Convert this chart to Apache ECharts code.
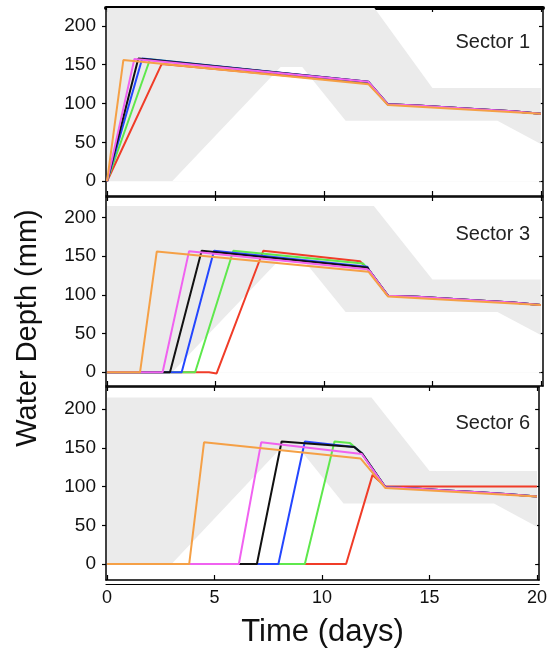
<!DOCTYPE html>
<html><head><meta charset="utf-8">
<script src="https://cdn.jsdelivr.net/npm/echarts@6/dist/echarts.min.js"></script>
<style>html,body{margin:0;padding:0;background:#fff}#c{width:550px;height:655px}</style>
</head><body><div id="c"></div>
<script>
// ---- data ----
const xTicks = [0, 5, 10, 15, 20];
const yTicks = [0, 50, 100, 150, 200];
const sectors = ['Sector 1', 'Sector 3', 'Sector 6'];

// grey envelope
const bandX       = [0, 3, 8, 9, 11, 12.3, 15, 18, 20];
const bandUpperS1 = [224, 224, 224, 224, 224, 224, 120, 120, 120];
const bandUpperS3 = [215, 215, 215, 215, 215, 215, 120, 120, 120];
const bandLower   = [0, 0, 147, 147, 78, 78, 78, 78, 48];

// common recession tails
const tailOrange = [[12.95, 98], [20, 87]];
const tailStair  = [[12.95, 99], [14.3, 97.5], [14.3, 95.5], [15.8, 95], [15.8, 93], [17.3, 92.5], [17.3, 90.5], [18.7, 90], [18.7, 88], [20, 87]];
const tailRedS6  = [[12.95, 100], [20, 100]];

// Sector 1
const s1Red     = [[0, 0], [2.52, 151], [12.05, 126]];
const s1Green   = [[0, 0], [1.98, 157], [12.05, 127.5]];
const s1Blue    = [[0, 0], [1.62, 158], [12.05, 128]];
const s1Black   = [[0, 0], [1.44, 158], [12.05, 128]];
const s1Magenta = [[0, 0], [1.26, 157.5], [12.05, 128]];
const s1Orange  = [[0, 0], [0.75, 156], [12.05, 125]];

// Sector 3
const s3Red     = [[0, 0], [4.7, 0], [5.05, -1.5], [7.2, 157], [11.66, 143.5], [12.1, 131]];
const s3Green   = [[0, 0], [4.06, 0], [5.82, 157], [11.8, 140.5], [12.1, 131]];
const s3Blue    = [[0, 0], [3.44, 0], [4.93, 157], [12.0, 136.5], [12.1, 131]];
const s3Black   = [[0, 0], [2.9, 0], [4.36, 157], [12.0, 135.5], [12.1, 131]];
const s3Magenta = [[0, 0], [2.56, 0], [3.78, 156.5], [12.0, 133], [12.1, 131]];
const s3Orange  = [[0, 0], [1.52, 0], [2.29, 156], [12.05, 130]];

// Sector 6
const s6Red     = [[0, 0], [11.12, 0], [12.35, 115]];
const s6Green   = [[0, 0], [9.2, 0], [10.58, 158], [11.3, 156], [11.85, 143]];
const s6Blue    = [[0, 0], [7.97, 0], [9.2, 158], [11.5, 151], [11.85, 143]];
const s6Black   = [[0, 0], [6.97, 0], [8.12, 158], [11.5, 151], [11.85, 143]];
const s6Magenta = [[0, 0], [6.13, 0], [7.17, 157], [11.85, 142]];
const s6Orange  = [[0, 0], [3.82, 0], [4.51, 157], [11.8, 136]];

// ---- build ----
const colors = {red: '#f03c28', green: '#5ee84c', blue: '#2446ff', black: '#111111', magenta: '#f062f0', orange: '#f5a046'};
const order = ['red', 'green', 'blue', 'black', 'magenta', 'orange'];

const panels = [
  {lines: {red: s1Red.concat(tailStair), green: s1Green.concat(tailStair), blue: s1Blue.concat(tailStair), black: s1Black.concat(tailStair), magenta: s1Magenta.concat(tailStair), orange: s1Orange.concat(tailOrange)},
   upper: bandUpperS1, top: 8, height: 188, min: -19, max: 223, titleTop: 27},
  {lines: {red: s3Red.concat(tailStair), green: s3Green.concat(tailStair), blue: s3Blue.concat(tailStair), black: s3Black.concat(tailStair), magenta: s3Magenta.concat(tailStair), orange: s3Orange.concat(tailOrange)},
   upper: bandUpperS3, top: 197, height: 189, min: -17.8, max: 226.5, titleTop: 219},
  {lines: {red: s6Red.concat(tailRedS6), green: s6Green.concat(tailStair), blue: s6Blue.concat(tailStair), black: s6Black.concat(tailStair), magenta: s6Magenta.concat(tailStair), orange: s6Orange.concat(tailOrange)},
   upper: bandUpperS3, top: 387, height: 193, min: -20.6, max: 228.4, titleTop: 408}
];

const FONT = 'Liberation Sans, Arial, Helvetica, sans-serif';
const grid = [], xAxis = [], yAxis = [], series = [], title = [];
const axisLineStyle = {color: '#000', width: 1.5};

panels.forEach((p, i) => {
  grid.push({left: 106, width: 437, top: p.top, height: p.height, show: false});
  const last = i === panels.length - 1;
  xAxis.push({
    type: 'value', gridIndex: i, position: 'bottom', min: -0.05, max: 20.1,
    axisLine: {show: true, onZero: false, lineStyle: axisLineStyle},
    axisTick: {show: true, inside: true, length: 5, customValues: xTicks, lineStyle: {color: '#000', width: 1.2}},
    axisLabel: {show: last, customValues: xTicks, fontSize: 18, color: '#111', margin: 9, fontFamily: FONT},
    splitLine: {show: false},
    name: last ? 'Time (days)' : '', nameLocation: 'middle', nameGap: 37,
    nameTextStyle: {fontSize: 31, color: '#111', fontFamily: FONT}
  });
  xAxis.push({
    type: 'value', gridIndex: i, position: 'top', min: -0.05, max: 20.1,
    axisLine: {show: true, onZero: false, lineStyle: {color: '#000', width: i === 0 ? 4 : 1.5}},
    axisTick: {show: true, inside: true, length: 4, customValues: xTicks, lineStyle: {color: '#000', width: 1.2}},
    axisLabel: {show: false}, splitLine: {show: false}
  });
  yAxis.push({
    type: 'value', gridIndex: i, position: 'left', min: p.min, max: p.max,
    axisLine: {show: true, onZero: false, lineStyle: axisLineStyle},
    axisTick: {show: true, inside: false, length: 4, customValues: yTicks, lineStyle: {color: '#000', width: 1.2}},
    axisLabel: {show: true, customValues: yTicks, fontSize: 19, color: '#111', margin: 10, fontFamily: FONT},
    splitLine: {show: false}
  });
  yAxis.push({
    type: 'value', gridIndex: i, position: 'right', min: p.min, max: p.max,
    axisLine: {show: true, onZero: false, lineStyle: axisLineStyle},
    axisTick: {show: true, inside: true, length: 4, customValues: yTicks, lineStyle: {color: '#000', width: 1.2}},
    axisLabel: {show: false}, splitLine: {show: false}
  });

  const xi = i * 2, yi = i * 2;
  // grey envelope: upper edge filled down to 0, then lower edge filled white down to 0
  series.push({
    type: 'line', xAxisIndex: xi, yAxisIndex: yi, silent: true,
    showSymbol: false, lineStyle: {width: 0, opacity: 0},
    areaStyle: {color: '#ebebeb', opacity: 1, origin: 0},
    data: bandX.map((x, k) => [x, p.upper[k]]), z: 1
  });
  series.push({
    type: 'line', xAxisIndex: xi, yAxisIndex: yi, silent: true,
    showSymbol: false, lineStyle: {width: 0, opacity: 0},
    areaStyle: {color: '#ffffff', opacity: 1, origin: 0},
    data: bandX.map((x, k) => [x, bandLower[k]]), z: 2
  });
  order.forEach(c => {
    series.push({
      type: 'line', xAxisIndex: xi, yAxisIndex: yi, showSymbol: false, silent: true,
      lineStyle: {color: colors[c], width: 2}, data: p.lines[c], z: 3, clip: true
    });
  });
  title.push({text: sectors[i], right: 15, top: p.titleTop,
    textStyle: {fontSize: 20, fontWeight: 'normal', color: '#222', fontFamily: FONT}});
});

xAxis.push({
  type: 'value', gridIndex: 2, position: 'bottom', offset: 4, min: -0.05, max: 20.1,
  axisLine: {show: true, onZero: false, lineStyle: {color: '#000', width: 1.2}},
  axisTick: {show: false}, axisLabel: {show: false}, splitLine: {show: false}
});

const chart = echarts.init(document.getElementById('c'), null, {renderer: 'canvas'});
chart.setOption({
  animation: false,
  backgroundColor: '#fff',
  textStyle: {fontFamily: FONT},
  title, grid, xAxis, yAxis, series,
  graphic: [{
    type: 'text', x: 28, y: 328, rotation: Math.PI / 2,
    style: {text: 'Water Depth (mm)', fontSize: 29, fontFamily: FONT, fill: '#111', align: 'center', verticalAlign: 'middle'}
  }]
});
</script>
</body></html>
